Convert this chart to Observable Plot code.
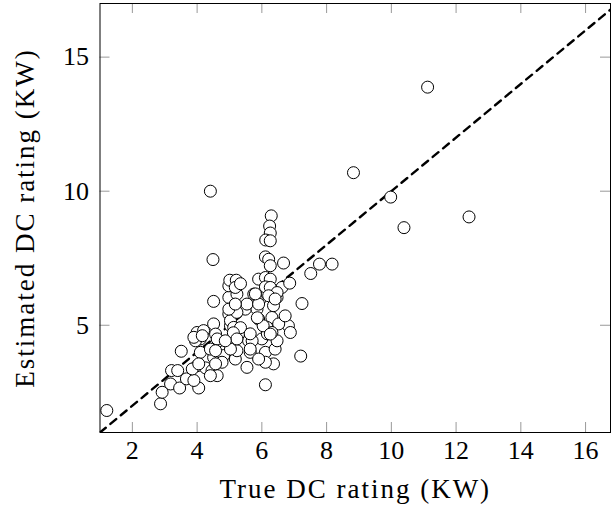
<!DOCTYPE html>
<html>
<head>
<meta charset="utf-8">
<script src="https://cdn.jsdelivr.net/npm/d3@7"></script>
<script src="https://cdn.jsdelivr.net/npm/@observablehq/plot@0.6"></script>
<style>
  html, body { margin: 0; padding: 0; background: white; }
</style>
</head>
<body>
<div id="chart"></div>
<script>
const trueDC = [
  1.21, 2.87, 2.92, 3.18, 3.21, 3.40, 3.46, 3.67, 4.05, 3.90,
  3.51, 4.00, 4.26, 4.46, 4.51, 4.10, 4.41, 4.72, 4.82, 4.67,
  4.98, 5.18, 5.54, 5.23, 5.64, 5.59, 6.00, 6.11, 6.41, 6.36,
  6.11, 6.47, 6.82, 6.88, 7.20, 6.11, 4.51, 4.51, 4.00, 4.20,
  4.10, 3.95, 5.03, 4.98, 5.18, 4.98, 5.23, 4.98, 5.18, 5.49,
  5.28, 5.75, 5.95, 6.16, 6.36, 5.90, 6.31, 6.16, 6.52, 6.62,
  6.47, 5.85, 5.70, 6.31, 7.24, 5.54, 5.01, 5.21, 5.18, 5.90,
  6.11, 6.26, 6.11, 6.26, 6.11, 6.21, 6.26, 6.67, 7.51, 6.86,
  6.47, 6.29, 6.24, 6.26, 6.12, 6.26, 7.78, 8.17, 5.03, 5.13,
  5.23, 4.98, 5.18, 3.90, 4.57, 5.34, 5.64, 6.17, 5.12, 6.04,
  5.86, 6.72, 5.90, 5.80, 6.21, 6.41, 5.34, 4.62, 5.03, 4.77,
  6.26, 5.90, 5.64, 5.23, 4.87, 3.85, 4.05, 4.62, 4.41, 4.57,
  4.57, 4.16, 4.41, 4.49, 8.83, 9.98, 10.39, 12.40, 11.12
];
const estimatedDC = [
  1.82, 2.07, 2.50, 2.81, 3.31, 3.31, 2.66, 3.00, 2.66, 2.94,
  4.03, 3.49, 3.41, 3.31, 3.80, 3.99, 4.11, 3.68, 3.87, 4.42,
  4.36, 3.74, 3.43, 4.05, 3.99, 4.42, 4.49, 3.99, 4.11, 3.56,
  3.62, 4.42, 4.98, 4.73, 3.85, 2.78, 5.05, 5.89, 4.73, 4.80,
  4.49, 4.42, 4.98, 5.42, 5.66, 6.04, 6.16, 6.47, 6.53, 5.60,
  4.67, 6.16, 5.98, 6.16, 5.73, 5.23, 5.29, 4.92, 5.05, 6.41,
  6.04, 5.60, 4.42, 4.73, 5.81, 5.79, 6.68, 6.68, 6.41, 6.72,
  6.78, 6.72, 6.43, 6.41, 7.55, 7.46, 7.22, 7.32, 6.93, 6.57,
  6.22, 9.08, 8.70, 8.44, 8.18, 8.15, 7.28, 7.28, 5.17, 4.92,
  5.48, 5.60, 5.79, 4.55, 4.67, 4.91, 4.68, 4.68, 4.72, 4.98,
  5.28, 5.35, 5.79, 6.17, 6.10, 5.98, 6.55, 4.49, 4.11, 3.62,
  4.67, 3.74, 4.11, 4.49, 4.42, 3.37, 3.56, 3.12, 3.12, 3.56,
  4.05, 4.61, 10.00, 7.45, 10.69, 9.78, 8.64, 9.04, 13.88
];
const xTicks = [2, 4, 6, 8, 10, 12, 14, 16];
const yTicks = [5, 10, 15];
const diagonal = [1, 17];
const xLabel = "True DC rating (KW)";
const yLabel = "Estimated DC rating (KW)";

const points = trueDC.map((t, i) => ({x: t, y: estimatedDC[i]}));
const font = "'Liberation Serif', 'DejaVu Serif', serif";

const chart = Plot.plot({
  width: 611,
  height: 517,
  marginLeft: 99.5,
  marginRight: 1,
  marginTop: 3,
  marginBottom: 85,
  x: {domain: [1, 16.77]},
  y: {domain: [1, 17]},
  style: {fontFamily: font, fontSize: "26px", background: "white", color: "black", overflow: "visible"},
  marks: [
    Plot.line(diagonal, {x: d => d, y: d => d, stroke: "black", strokeWidth: 2.4, strokeDasharray: "7.5,6", clip: true}),
    Plot.dot(points, {x: "x", y: "y", r: 6, fill: "white", stroke: "black", strokeWidth: 1}),
    Plot.tickX(xTicks, {x: d => d, stroke: "#999", insetTop: 419}),
    Plot.tickX(xTicks, {x: d => d, stroke: "#999", insetBottom: 419}),
    Plot.tickY(yTicks, {y: d => d, stroke: "#999", insetRight: 500.5}),
    Plot.tickY(yTicks, {y: d => d, stroke: "#999", insetLeft: 500.5}),
    Plot.axisX(xTicks, {tickSize: 0, tickPadding: 8, fontSize: 26, label: null}),
    Plot.axisY(yTicks, {tickSize: 0, tickPadding: 11, fontSize: 26, label: null}),
    Plot.frame({stroke: "black", strokeWidth: 1}),
    Plot.text([xLabel], {text: d => d, frameAnchor: "bottom", dy: 65, fontSize: 27, fill: "black", textAnchor: "middle"}),
    Plot.text([yLabel], {text: d => d, frameAnchor: "left", rotate: -90, dx: -75, fontSize: 27, fill: "black", textAnchor: "middle"})
  ]
});
document.getElementById("chart").appendChild(chart);
d3.select(chart).selectAll("g[aria-label='text'] text").style("letter-spacing", "2px");
</script>
</body>
</html>
